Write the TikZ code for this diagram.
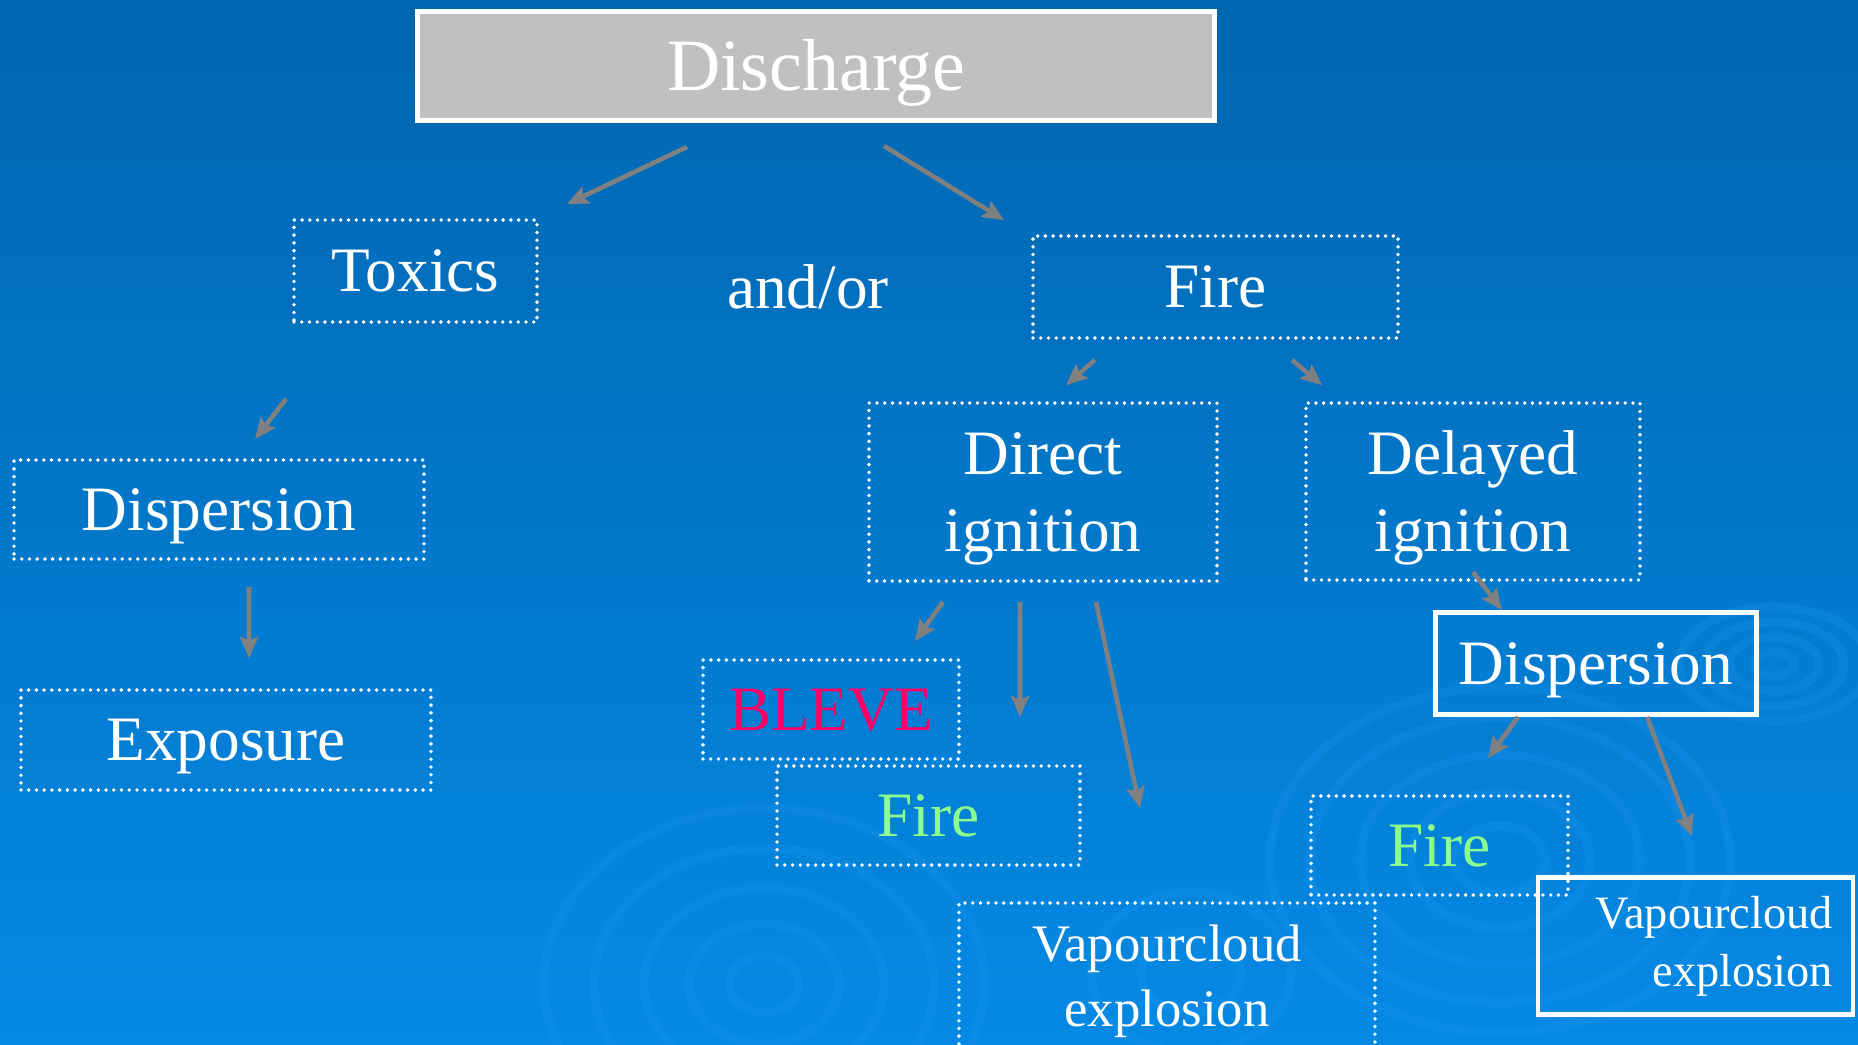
\documentclass[tikz,border=0pt]{standalone}
\usepackage{fontspec}
\setmainfont{Liberation Serif}
\usetikzlibrary{arrows.meta, positioning, calc}
\definecolor{bgtop}{HTML}{0066B0}
\definecolor{bgmid}{HTML}{006DB9}
\definecolor{bgbot}{HTML}{0589E4}
\definecolor{ripple}{HTML}{1C98F2}
\definecolor{arrgrey}{HTML}{808080}
\definecolor{boxgrey}{HTML}{C0C0C0}
\definecolor{blevered}{HTML}{FF0066}
\definecolor{firegreen}{HTML}{8CFF8C}

\tikzset{
  txt/.style={text=white, inner sep=0pt, align=center, font=\fontsize{18}{22}\selectfont},
  oneline/.style={text height=16pt, text depth=4.3pt},
  twolines/.style={text height=38pt, text depth=3.9pt},
  dotbox/.style={txt, draw=white, line width=1.1pt, line cap=round, dash pattern=on 0pt off 2.2pt},
  solidbox/.style={txt, draw=white, line width=1.4pt},
  arr/.style={draw=arrgrey, line width=1.3pt, -{Stealth[length=6pt,width=5.2pt,inset=1pt]}},
  rip/.style={draw=ripple, line width=2.5pt, opacity=0.25}
}

\begin{document}
\begin{tikzpicture}
      \useasboundingbox (0,0) rectangle (18.58,-10.44);
      \shade[top color=bgtop, middle color=bgmid, bottom color=bgbot] (0,0) rectangle (18.58,-10.44);

      \foreach \r in {0.35,0.75,1.2,1.7,2.2}
        \draw[rip] (7.64,-9.84) ellipse ({\r} and {0.8*\r});
      \foreach \r in {0.45,0.9,1.4,1.9,2.3}
        \draw[rip] (15.0,-8.6) ellipse ({\r} and {0.75*\r});
      \foreach \r in {0.5,1.0}
        \draw[rip] (11.91,-9.72) ellipse ({\r} and {0.8*\r});
      \foreach \r in {0.2,0.45,0.7,0.95}
        \draw[rip] (17.74,-6.64) ellipse ({\r} and {0.6*\r});

      \node[solidbox, fill=boxgrey, minimum width=7.97cm, minimum height=1.09cm,
            font=\fontsize{21}{25}\selectfont, text height=19pt, text depth=5pt] (dis) at (8.16,-0.66) {Discharge};

      \node[dotbox, oneline, minimum width=2.43cm, minimum height=1.02cm] (tox) at (4.155,-2.71) {Toxics};
      \node[txt, oneline] (andor) at (8.08,-2.88) {and/or};
      \node[dotbox, oneline, minimum width=3.65cm, minimum height=1.02cm] (fire) at (12.155,-2.87) {Fire};

      \node[dotbox, oneline, minimum width=4.10cm, minimum height=0.99cm] (displ) at (2.19,-5.095) {Dispersion};
      \node[dotbox, oneline, minimum width=4.10cm, minimum height=1.00cm] (expo) at (2.26,-7.40) {Exposure};

      \node[dotbox, twolines, minimum width=3.48cm, minimum height=1.78cm] (dir) at (10.43,-4.92) {Direct\\ignition};
      \node[dotbox, twolines, minimum width=3.34cm, minimum height=1.77cm] (del) at (14.73,-4.915) {Delayed\\ignition};

      \node[dotbox, oneline, minimum width=2.56cm, minimum height=0.99cm, text=blevered] (bleve) at (8.31,-7.095) {BLEVE};
      \node[dotbox, oneline, minimum width=3.03cm, minimum height=0.99cm, text=firegreen] (firem) at (9.285,-8.155) {Fire};
      \node[dotbox, minimum width=4.16cm, minimum height=1.56cm,
            font=\fontsize{15}{18.5}\selectfont] (vcem) at (11.67,-9.81) {Vapourcloud\\explosion};

      \node[solidbox, oneline, minimum width=3.21cm, minimum height=1.02cm] (dispr) at (15.96,-6.635) {Dispersion};
      \node[dotbox, oneline, minimum width=2.57cm, minimum height=0.99cm, text=firegreen] (firer) at (14.395,-8.455) {Fire};
      \node[solidbox, minimum height=1.37cm, text width=2.75cm, inner xsep=0.2cm, align=right,
            font=\fontsize{13.2}{16.5}\selectfont] (vcer) at (16.955,-9.46) {Vapourcloud\\explosion};

      \draw[arr] ($(dis.south)+(-1.29,-0.24)$) -- ($(tox.north)+(1.515,0.14)$);
      \draw[arr] ($(dis.south)+(0.68,-0.23)$) -- ($(fire.north)+(-2.115,0.14)$);
      \draw[arr] ($(tox.south)+(-1.295,-0.75)$) -- ($(displ.north)+(0.36,0.19)$);
      \draw[arr] ($(displ.south)+(0.30,-0.26)$) -- ($(expo.north)+(0.23,0.30)$);
      \draw[arr] ($(fire.south)+(-1.205,-0.20)$) -- ($(dir.north)+(0.23,0.16)$);
      \draw[arr] ($(fire.south)+(0.765,-0.20)$) -- ($(del.north)+(-1.51,0.16)$);
      \draw[arr] ($(dir.south)+(-1.00,-0.19)$) -- ($(bleve.north)+(0.84,0.17)$);
      \draw[arr] ($(dir.south)+(-0.23,-0.19)$) -- ($(firem.north)+(0.915,0.47)$);
      \draw[arr] ($(dir.south)+(0.53,-0.19)$) -- ($(vcem.north)+(-0.27,0.93)$);
      \draw[arr] ($(del.south)+(0,0.10)$) -- ($(dispr.north)+(-0.94,0)$);
      \draw[arr] ($(dispr.south)+(-0.78,0)$) -- ($(firer.north)+(0.485,0.36)$);
      \draw[arr] ($(dispr.south)+(0.51,0)$) -- ($(vcer.north)+(-0.035,0.39)$);

    \end{tikzpicture}
\end{document}
